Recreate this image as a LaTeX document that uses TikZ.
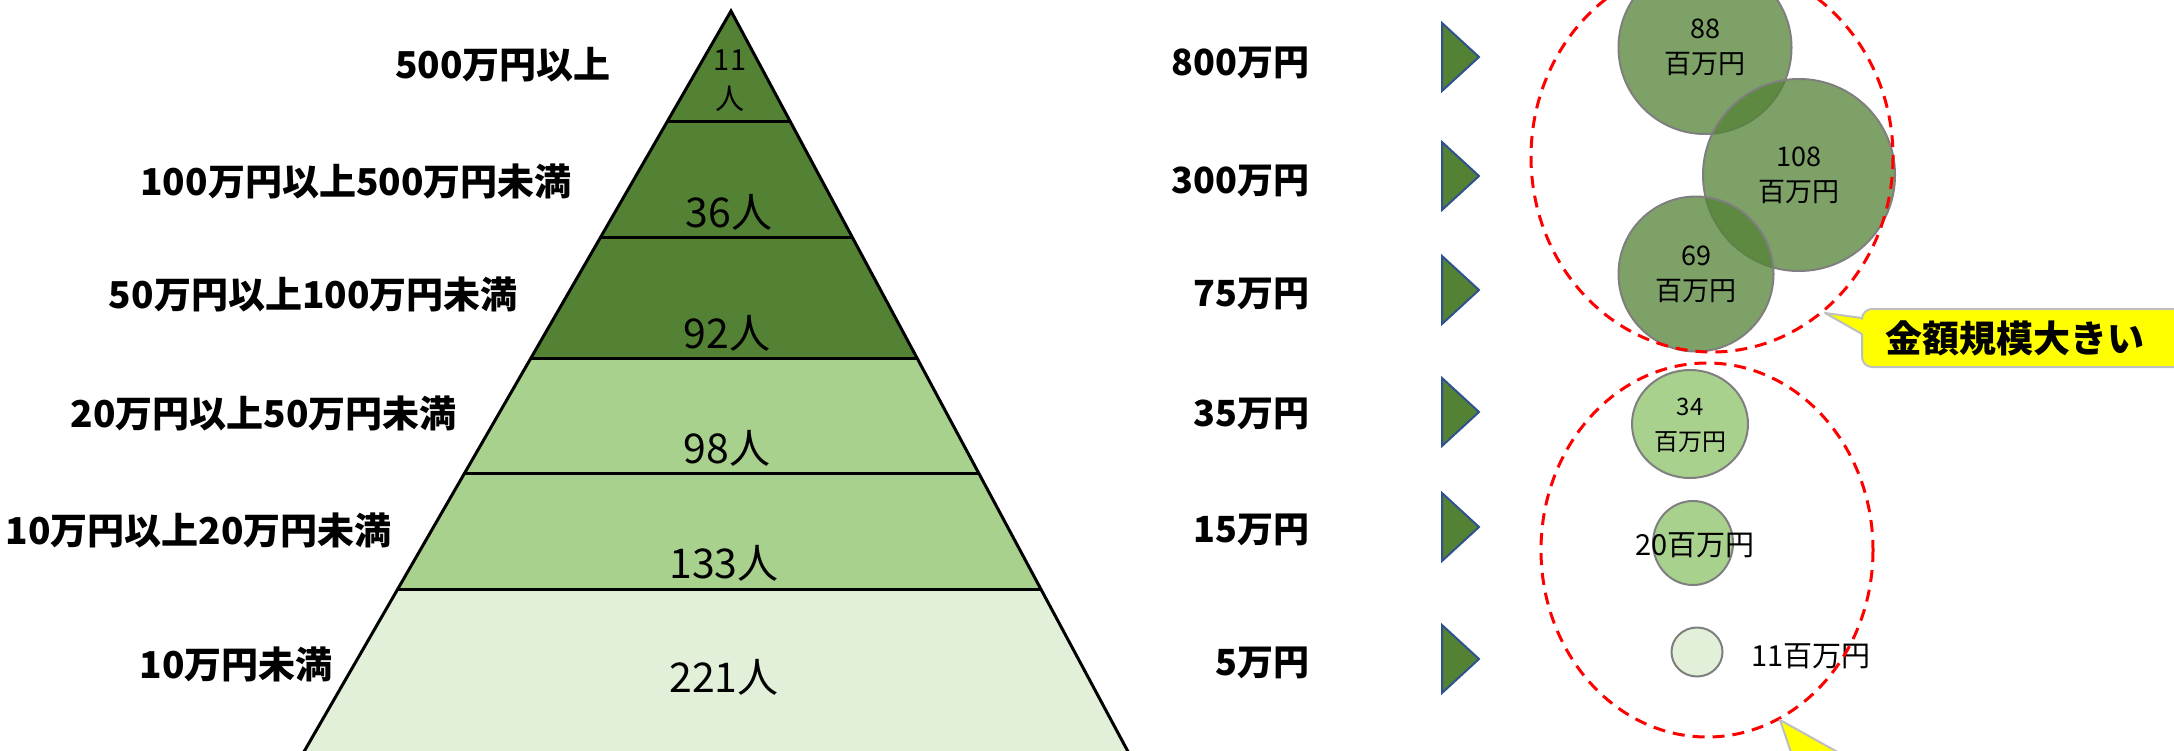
\documentclass[tikz,border=0pt]{standalone}
\usepackage{fontspec}
\setmainfont{Noto Sans CJK JP}
\usetikzlibrary{shapes.geometric}
\definecolor{dkgreen}{HTML}{548235}
\definecolor{mdgreen}{HTML}{A9D18E}
\definecolor{ltgreen}{HTML}{E2F0D9}
\definecolor{triborder}{HTML}{2F528F}
\definecolor{bubborder}{HTML}{7F7F7F}
\definecolor{callborder}{HTML}{BFBFBF}
\definecolor{calloutfill}{HTML}{FFFF00}
\tikzset{
  band/.style={draw=none},
  sepline/.style={draw=black, line width=1.5pt},
  leftlabel/.style={anchor=east, inner sep=0pt, font=\bfseries\fontsize{18.5}{22}\selectfont},
  rightlabel/.style={anchor=east, inner sep=0pt, font=\bfseries\fontsize{18}{22}\selectfont},
  pyrtext/.style={inner sep=0pt, font=\fontsize{20.5}{24}\selectfont},
  marker/.style={fill=dkgreen, draw=triborder, line width=1pt, line join=miter},
  bub/.style={ellipse, draw=bubborder, line width=1pt, inner sep=0pt},
  bubtext/.style={inner sep=0pt, align=center, font=\fontsize{13.5}{17.5}\selectfont},
  reddash/.style={draw=red, line width=1.5pt, dash pattern=on 6pt off 4pt},
  callout/.style={fill=calloutfill, draw=callborder, line width=1pt, line join=round},
  callouttext/.style={inner sep=0pt, anchor=west, font=\bfseries\fontsize{18.5}{22}\selectfont}
}
\begin{document}
\begin{tikzpicture}[x=0.5pt, y=-0.5pt]
\useasboundingbox (0,0) rectangle (2174,750);
\clip (0,0) rectangle (2174,750);
\fill[white] (0,0) rectangle (2174,750);

% pyramid corner points
\coordinate (apex) at (731,11);
\coordinate (l1) at (667.6,121);  \coordinate (r1) at (790,121);
\coordinate (l2) at (600.7,237);  \coordinate (r2) at (852.1,237);
\coordinate (l3) at (531,358);    \coordinate (r3) at (917,358);
\coordinate (l4) at (464.7,473);  \coordinate (r4) at (978.6,473);
\coordinate (l5) at (397.8,589);  \coordinate (r5) at (1040.8,589);
\coordinate (l6) at (299.2,760);  \coordinate (r6) at (1132.5,760);

\fill[dkgreen] (apex) -- (r1) -- (l1) -- cycle;
\fill[dkgreen] (l1) -- (r1) -- (r2) -- (l2) -- cycle;
\fill[dkgreen] (l2) -- (r2) -- (r3) -- (l3) -- cycle;
\fill[mdgreen] (l3) -- (r3) -- (r4) -- (l4) -- cycle;
\fill[mdgreen] (l4) -- (r4) -- (r5) -- (l5) -- cycle;
\fill[ltgreen] (l5) -- (r5) -- (r6) -- (l6) -- cycle;

\draw[sepline] (l1) -- (r1);
\draw[sepline] (l2) -- (r2);
\draw[sepline] (l3) -- (r3);
\draw[sepline] (l4) -- (r4);
\draw[sepline] (l5) -- (r5);
\draw[sepline, line join=miter] (l6) -- (apex) -- (r6);

% pyramid texts
\node[pyrtext, align=center, font=\fontsize{14.5}{19.5}\selectfont] (p1) at (730,81) {11\\人};
\node[pyrtext] (p2) at (729,212) {36人};
\node[pyrtext] (p3) at (727,333) {92人};
\node[pyrtext] (p4) at (727,448) {98人};
\node[pyrtext] (p5) at (724,563) {133人};
\node[pyrtext] (p6) at (724,677) {221人};

% left labels
\node[leftlabel] (L1) at (611,65) {500万円以上};
\node[leftlabel] (L2) at (572,181) {100万円以上500万円未満};
\node[leftlabel] (L3) at (518,294) {50万円以上100万円未満};
\node[leftlabel] (L4) at (457,413) {20万円以上50万円未満};
\node[leftlabel] (L5) at (392,530) {10万円以上20万円未満};
\node[leftlabel] (L6) at (333,664) {10万円未満};

% right labels
\node[rightlabel] (R1) at (1310,63) {800万円};
\node[rightlabel] (R2) at (1310,181) {300万円};
\node[rightlabel] (R3) at (1310,294) {75万円};
\node[rightlabel] (R4) at (1310,414) {35万円};
\node[rightlabel] (R5) at (1310,530) {15万円};
\node[rightlabel] (R6) at (1310,663) {5万円};

% triangle markers
\foreach \c in {57,176,290,412,527,659}{
  \draw[marker] (1442,\c-34) -- (1479,\c) -- (1442,\c+34) -- cycle;
}

% bubbles
\node[bub, fill=dkgreen, fill opacity=0.75, minimum width=86.5pt, minimum height=86.5pt] (b88) at (1705,47.5) {};
\node[bub, fill=dkgreen, fill opacity=0.75, minimum width=96pt, minimum height=96pt] (b108) at (1799,175) {};
\node[bub, fill=dkgreen, fill opacity=0.75, minimum width=77.5pt, minimum height=77.5pt] (b69) at (1696,274) {};
\node[bub, fill=mdgreen, minimum width=58pt, minimum height=54pt] (b34) at (1690,424) {};
\node[bub, fill=mdgreen, minimum width=40pt, minimum height=42pt] (b20) at (1693,543) {};
\node[bub, fill=ltgreen, minimum width=25.5pt, minimum height=24.5pt] (b11) at (1697,652) {};

\node[bubtext] (t88) at (b88.center) {88\\百万円};
\node[bubtext] (t108) at (b108.center) {108\\百万円};
\node[bubtext] (t69) at (b69.center) {69\\百万円};
\node[bubtext, font=\fontsize{12}{17.5}\selectfont] (t34) at (1690,425) {34\\百万円};
\node[bubtext, font=\fontsize{14.5}{17.5}\selectfont] (t20) at (1695,545) {20百万円};
\node[bubtext, font=\fontsize{14.5}{17.5}\selectfont, anchor=west] (t11) at (1751,656) {11百万円};

% red dashed groups
\draw[reddash] (1712,157) ellipse [x radius=181, y radius=195];
\draw[reddash] (1707,550) ellipse [x radius=166, y radius=187];

% callouts
\draw[callout] (1825,313) -- (1862,318) [rounded corners=5pt] -- (1862,309) -- (2230,309) -- (2230,367) -- (1862,367) [sharp corners] -- (1862,334) -- cycle;
\node[callouttext] (c1) at (1885,338) {金額規模大きい};
\draw[callout] (1780,720) -- (1797,770) -- (1870,770) -- cycle;
\end{tikzpicture}
\end{document}
